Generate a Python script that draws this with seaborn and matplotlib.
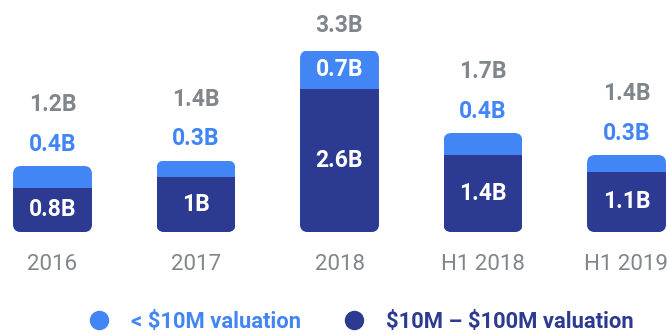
import matplotlib
matplotlib.use("Agg")
import matplotlib.pyplot as plt
from matplotlib.patches import FancyBboxPatch
from matplotlib.lines import Line2D
import seaborn as sns
import pandas as pd

# Funding by valuation band (billions of USD)
periods = ["2016", "2017", "2018", "H1 2018", "H1 2019"]
large_val = [0.8, 1.0, 2.6, 1.4, 1.1]      # $10M - $100M valuation
small_val = [0.4, 0.3, 0.7, 0.4, 0.3]      # < $10M valuation
total_labels = ["1.2B", "1.4B", "3.3B", "1.7B", "1.4B"]
large_labels = ["0.8B", "1B", "2.6B", "1.4B", "1.1B"]
small_labels = ["0.4B", "0.3B", "0.7B", "0.4B", "0.3B"]
legend_labels = ["< \\$10M valuation", "\\$10M \u2013 \\$100M valuation"]

BLUE = "#4285f4"
NAVY = "#2c3a91"
GRAY = "#80868b"
FS = 16.5

sns.set_theme(style="white")
plt.rcParams["font.family"] = ["Roboto", "DejaVu Sans"]

df = pd.DataFrame({
    "period": periods,
    "large": large_val,
    "stack_top": [a + b for a, b in zip(large_val, small_val)],
})

W, H = 667, 334
fig = plt.figure(figsize=(W / 100, H / 100), dpi=100)
ax = fig.add_axes([0, 102 / H, 1, 232 / H])

bar_w = 0.55
sns.barplot(data=df, x="period", y="stack_top", color=BLUE, width=bar_w,
            saturation=1, ax=ax)
sns.barplot(data=df, x="period", y="large", color=NAVY, width=bar_w,
            saturation=1, ax=ax)

x_px, y_px = 143.5, 55.0   # pixels per data unit
ax.set_xlim(-52.5 / x_px, (W - 52.5) / x_px)
ax.set_ylim(0, 232 / y_px)

# Clip each stacked column to a rounded outline
radius = 8 / x_px
n = len(periods)
outlines = []
for k in range(n):
    outline = FancyBboxPatch((k - bar_w / 2, 0), bar_w, df["stack_top"][k],
                             boxstyle=f"round,pad=0,rounding_size={radius}",
                             mutation_aspect=x_px / y_px,
                             transform=ax.transData, facecolor="none",
                             edgecolor="none")
    ax.add_patch(outline)
    outlines.append(outline)
for i, patch in enumerate(ax.patches[: 2 * n]):
    patch.set_clip_path(outlines[i % n])
    patch.set_edgecolor("none")

# Value labels
for k in range(n):
    top = df["stack_top"][k]
    ax.text(k, large_val[k] / 2, large_labels[k], ha="center", va="center",
            color="white", fontsize=FS, fontweight="bold")
    if small_val[k] >= 0.6:
        ax.text(k, large_val[k] + small_val[k] / 2, small_labels[k],
                ha="center", va="center", color="white", fontsize=FS,
                fontweight="bold")
        total_off = 18
    else:
        ax.annotate(small_labels[k], (k, top), xytext=(0, 15.8),
                    textcoords="offset points", ha="center", va="center",
                    color=BLUE, fontsize=FS, fontweight="bold")
        total_off = 44
    ax.annotate(total_labels[k], (k, top), xytext=(0, total_off),
                textcoords="offset points", ha="center", va="center",
                color=GRAY, fontsize=FS, fontweight="bold",
                annotation_clip=False)

ax.set_xlabel("")
ax.set_ylabel("")
ax.set_yticks([])
ax.tick_params(axis="x", length=0, pad=16, labelsize=16, labelcolor=GRAY)
sns.despine(ax=ax, left=True, bottom=True)

handles = [Line2D([], [], marker="o", linestyle="none", markersize=14,
                  markerfacecolor=c, markeredgecolor="none")
           for c in (BLUE, NAVY)]
leg = fig.legend(handles, legend_labels,
                 loc="center", bbox_to_anchor=(0.541, 12 / H), ncol=2,
                 frameon=False, handletextpad=0.95, columnspacing=1.9,
                 handlelength=1.0, prop={"size": 15.8, "weight": "bold"})
for txt, c in zip(leg.get_texts(), (BLUE, NAVY)):
    txt.set_color(c)

fig.savefig("out.png", dpi=100)
